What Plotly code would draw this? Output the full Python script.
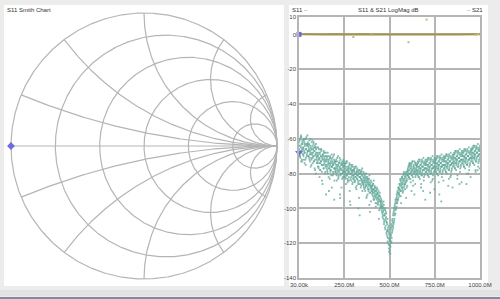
import numpy as np
import plotly.graph_objects as go

# ---------------- data ----------------
freq_start_mhz = 0.03
freq_stop_mhz = 1000.0

s11_db_a = [
    -62,-68,-60,-71,-65,-59,-67,-73,-63,-66,-70,-61,-68,-64,-72,-60,-66,-69,-63,-67,
    -64,-70,-66,-61,-73,-68,-65,-71,-62,-69,-74,-66,-63,-70,-67,-72,-65,-80,-68,-71,
    -68,-74,-70,-76,-66,-72,-69,-78,-73,-67,-75,-71,-86,-70,-77,-68,-74,-72,-79,-70,
    -72,-77,-70,-80,-75,-73,-90,-76,-71,-78,-74,-81,-69,-76,-73,-79,-75,-72,-84,-77,
    -74,-79,-72,-81,-77,-75,-70,-82,-78,-73,-76,-94,-80,-74,-77,-83,-75,-79,-72,-78,
    -76,-81,-74,-83,-78,-80,-73,-85,-79,-77,-82,-75,-96,-80,-78,-84,-76,-81,-79,-83,
    -78,-83,-77,-85,-80,-82,-76,-87,-81,-79,-84,-100,-78,-86,-82,-80,-88,-79,-83,-85,
    -81,-86,-79,-88,-84,-82,-90,-85,-80,-87,-83,-92,-86,-84,-89,-98,-85,-91,-87,-88,
    -85,-90,-87,-93,-89,-84,-95,-91,-88,-94,-90,-97,-92,-89,-96,-93,-106,-95,-91,-98,
    -94,-99,-96,-102,-97,-104,-100,-98,-107,-103,-101,-110,-105,-108,-113,-106,-117,-111,-121,-115,
    -124,-118,-112,-120,-109,-114,-106,-110,-103,-108,-100,-104,-97,-101,-95,-99,-93,-96,-91,-94,
    -88,-92,-86,-90,-84,-97,-87,-83,-89,-85,-81,-88,-84,-80,-86,-82,-94,-79,-84,-81,
    -77,-81,-75,-83,-78,-74,-80,-76,-90,-79,-73,-82,-77,-75,-80,-78,-86,-74,-79,-76,
    -75,-80,-73,-78,-82,-76,-72,-79,-77,-88,-74,-81,-76,-73,-78,-84,-75,-80,-77,-72,
    -74,-79,-72,-77,-81,-75,-71,-78,-76,-91,-73,-80,-75,-72,-77,-83,-74,-79,-76,-71,
    -73,-78,-71,-76,-80,-74,-70,-77,-85,-75,-72,-79,-74,-71,-76,-82,-73,-78,-75,-70,
    -72,-77,-70,-75,-79,-73,-69,-76,-74,-87,-71,-78,-73,-70,-75,-81,-72,-77,-74,-69,
    -70,-75,-68,-73,-77,-71,-67,-74,-72,-83,-69,-76,-71,-68,-73,-79,-70,-75,-72,-67,
    -69,-74,-67,-72,-76,-70,-66,-73,-71,-86,-68,-75,-70,-67,-72,-78,-69,-74,-71,-66,
    -67,-72,-65,-70,-74,-68,-64,-71,-69,-78,-66,-73,-68,-65,-70,-76,-67,-72,-69,-64,
]

s11_db_b = [
    -66,-61,-70,-64,-58,-68,-72,-62,-65,-69,-60,-67,-74,-63,-66,-71,-59,-64,-68,-62,
    -70,-65,-63,-72,-67,-60,-69,-75,-66,-64,-71,-68,-62,-73,-77,-65,-69,-63,-70,-74,
    -73,-69,-65,-77,-71,-82,-68,-74,-70,-66,-79,-72,-69,-75,-67,-73,-80,-70,-76,-68,
    -75,-71,-78,-68,-74,-82,-72,-77,-70,-79,-73,-76,-88,-71,-75,-80,-74,-69,-77,-73,
    -78,-73,-76,-84,-71,-79,-75,-81,-74,-77,-92,-72,-78,-80,-75,-73,-82,-76,-79,-74,
    -80,-75,-79,-86,-73,-81,-77,-83,-76,-78,-84,-74,-80,-98,-77,-82,-79,-75,-85,-78,
    -82,-78,-84,-76,-80,-88,-79,-83,-77,-81,-86,-80,-94,-78,-84,-82,-79,-87,-81,-77,
    -85,-80,-86,-83,-89,-81,-84,-87,-82,-93,-85,-88,-83,-90,-86,-81,-102,-87,-84,-89,
    -88,-92,-86,-91,-95,-89,-87,-93,-90,-99,-92,-88,-94,-91,-97,-90,-95,-93,-100,-96,
    -97,-95,-101,-99,-105,-102,-96,-109,-104,-100,-112,-107,-103,-115,-109,-119,-113,-110,-123,-118,
    -121,-126,-116,-111,-117,-107,-112,-104,-109,-101,-106,-98,-103,-96,-100,-92,-97,-90,-95,-89,
    -91,-86,-89,-83,-93,-85,-88,-82,-86,-90,-83,-79,-87,-82,-85,-80,-84,-88,-81,-78,
    -79,-76,-82,-74,-80,-77,-85,-75,-81,-78,-73,-84,-76,-79,-92,-77,-74,-81,-78,-75,
    -78,-74,-81,-76,-72,-79,-83,-75,-77,-86,-73,-80,-76,-78,-71,-82,-77,-74,-95,-79,
    -77,-73,-80,-75,-71,-78,-82,-74,-76,-72,-85,-79,-75,-77,-70,-81,-76,-73,-89,-78,
    -76,-72,-79,-74,-70,-77,-81,-73,-75,-92,-71,-78,-74,-76,-69,-80,-75,-72,-84,-77,
    -75,-71,-78,-73,-69,-76,-80,-72,-74,-70,-83,-77,-73,-75,-68,-79,-74,-71,-88,-76,
    -73,-69,-76,-71,-67,-74,-78,-70,-72,-81,-68,-75,-71,-73,-66,-77,-72,-69,-85,-74,
    -72,-68,-75,-70,-66,-73,-77,-69,-71,-67,-80,-74,-70,-72,-65,-76,-71,-68,-82,-73,
    -70,-66,-73,-68,-64,-71,-75,-67,-69,-79,-65,-72,-68,-70,-63,-74,-69,-66,-77,-71,
]

s11_db_c = [
    -64,-70,-67,-59,-73,-63,-66,-61,-69,-65,-72,-62,-68,-60,-75,-66,-63,-70,-58,-67,
    -67,-63,-71,-69,-64,-76,-66,-72,-68,-61,-70,-65,-73,-67,-64,-78,-69,-66,-72,-65,
    -70,-76,-72,-68,-74,-71,-78,-66,-73,-70,-84,-75,-69,-72,-77,-71,-68,-75,-73,-92,
    -73,-76,-79,-72,-70,-77,-74,-83,-75,-71,-78,-72,-76,-74,-81,-70,-77,-95,-73,-79,
    -77,-75,-80,-73,-78,-76,-83,-74,-79,-71,-77,-81,-75,-88,-78,-74,-80,-76,-73,-82,
    -79,-77,-82,-76,-74,-81,-78,-84,-80,-76,-79,-90,-77,-83,-75,-80,-78,-86,-76,-81,
    -81,-79,-77,-84,-82,-80,-89,-78,-83,-81,-85,-79,-82,-104,-80,-86,-83,-78,-84,-90,
    -84,-82,-87,-85,-80,-88,-83,-86,-94,-84,-82,-89,-85,-87,-83,-91,-86,-88,-96,-90,
    -87,-91,-89,-86,-94,-90,-92,-88,-97,-93,-89,-95,-91,-98,-94,-92,-101,-96,-93,-99,
    -96,-100,-98,-103,-99,-106,-101,-108,-104,-111,-106,-102,-114,-108,-116,-112,-120,-114,-125,-117,
    -119,-122,-115,-119,-110,-113,-108,-111,-102,-107,-99,-103,-95,-100,-94,-97,-91,-95,-88,-92,
    -89,-93,-87,-84,-90,-86,-82,-88,-91,-84,-80,-86,-83,-89,-81,-85,-79,-83,-87,-80,
    -78,-82,-76,-80,-75,-83,-79,-77,-74,-81,-78,-87,-76,-80,-73,-79,-82,-75,-77,-80,
    -76,-79,-74,-82,-77,-73,-80,-78,-75,-81,-72,-79,-76,-90,-74,-78,-81,-73,-77,-75,
    -75,-78,-73,-81,-76,-72,-79,-77,-74,-80,-71,-78,-75,-84,-73,-77,-80,-72,-76,-74,
    -74,-77,-72,-80,-75,-71,-78,-76,-73,-79,-70,-77,-74,-96,-72,-76,-79,-71,-75,-73,
    -73,-76,-71,-79,-74,-70,-77,-75,-72,-78,-69,-76,-73,-82,-71,-75,-78,-70,-74,-72,
    -71,-74,-69,-77,-72,-68,-75,-73,-70,-76,-67,-74,-71,-86,-69,-73,-76,-68,-72,-70,
    -70,-73,-68,-76,-71,-67,-74,-72,-69,-75,-66,-73,-70,-80,-68,-72,-75,-67,-71,-69,
    -68,-71,-66,-74,-69,-65,-72,-70,-67,-73,-64,-71,-68,-78,-66,-70,-73,-65,-69,-67,
]

s21_db = [0.1, 0.0, -0.1, 0.1, 0.0, 0.0, -0.1, 0.1, 0.0, 0.1, 0.0,
          -0.1, 0.0, 0.1, 0.0, -0.1, 0.0, 0.1, 0.0, 0.0, -0.1,
          0.0, 0.1, 0.0, -0.1, 0.0, 0.1, 0.0, 0.0, -0.1, 0.0,
          0.1, 0.0, -0.1, 0.0, 0.0, 0.1, 0.0, -0.1, 0.0, 0.1]
s21_spur_freq = [300, 400, 605, 705, 975, 990]
s21_spur_db = [-1.5, -0.3, -4.5, 8.5, -0.2, 0.2]

marker_freq = 0.03
marker_s11_db = -68
marker_s21_db = 0

x_tick_vals = [0.03, 250, 500, 750, 1000]
x_tick_text = ["30.00k", "250.0M", "500.0M", "750.0M", "1000.0M"]
y_tick_vals = [10, 0, -20, -40, -60, -80, -100, -120, -140]
y_tick_text = ["10", "0", "-20", "-40", "-60", "-80", "-100", "-120", "-140"]

smith_r = [0.2, 0.5, 1, 2, 5]
smith_x = [0.2, 0.5, 1, 2, 5]
smith_marker_re = -1.0
smith_marker_im = 0.0

# ---------------- layout helpers ----------------
W, H = 500, 299
def px(x):
    return x / W
def py(y):
    return 1 - y / H

GRID = "#b5b5b5"
TEAL = "#62a99a"
OLIVE = "#a0934d"
MARK = "#6c6ce2"
FONT = "Liberation Sans"

fig = go.Figure()

# ---- Smith chart grid ----
t = np.linspace(-np.pi / 2 + 1e-4, np.pi / 2 - 1e-4, 721)
sx, sy = [], []
for r in [0] + smith_r:
    z = r + 1j * np.tan(t)
    g = (z - 1) / (z + 1)
    sx += list(g.real) + [1.0, None]
    sy += list(g.imag) + [0.0, None]
tr = np.linspace(0, np.pi / 2 - 1e-4, 400)
for x in smith_x:
    for s in (1, -1):
        z = np.tan(tr) + 1j * s * x
        g = (z - 1) / (z + 1)
        sx += list(g.real) + [1.0, None]
        sy += list(g.imag) + [0.0, None]
sx += [-1, 1, None]
sy += [0, 0, None]

fig.add_trace(go.Scatter(x=sx, y=sy, mode="lines", line=dict(color=GRID, width=1.2),
                         hoverinfo="skip", showlegend=False, xaxis="x", yaxis="y"))
fig.add_trace(go.Scatter(x=[smith_marker_re], y=[smith_marker_im], mode="markers",
                         marker=dict(symbol="diamond", size=6, color=MARK),
                         cliponaxis=False, showlegend=False, xaxis="x", yaxis="y"))

# ---- LogMag chart ----
n = len(s11_db_a)
step = (freq_stop_mhz - freq_start_mhz) / (n - 1)
base_freq = np.linspace(freq_start_mhz, freq_stop_mhz, n)
freq_sets = [base_freq, np.clip(base_freq + step / 3, None, freq_stop_mhz),
             np.clip(base_freq + 2 * step / 3, None, freq_stop_mhz)]
s21_freq = np.linspace(freq_start_mhz, freq_stop_mhz, len(s21_db))

fig.add_trace(go.Scatter(x=s21_freq, y=s21_db, mode="lines", line=dict(color=OLIVE, width=2),
                         showlegend=False, xaxis="x2", yaxis="y2"))
fig.add_trace(go.Scatter(x=s21_spur_freq, y=s21_spur_db, mode="markers",
                         marker=dict(symbol="square", size=2, color="#c8b57a"),
                         showlegend=False, xaxis="x2", yaxis="y2"))
for fset, vals in zip(freq_sets, [s11_db_a, s11_db_b, s11_db_c]):
    fig.add_trace(go.Scatter(x=fset, y=vals, mode="markers",
                             marker=dict(symbol="square", size=1.8, color=TEAL, opacity=0.8),
                             showlegend=False, xaxis="x2", yaxis="y2"))
fig.add_trace(go.Scatter(x=[marker_freq], y=[marker_s21_db], mode="markers",
                         marker=dict(symbol="square", size=5, color=MARK),
                         cliponaxis=False, showlegend=False, xaxis="x2", yaxis="y2"))
fig.add_trace(go.Scatter(x=[marker_freq], y=[marker_s11_db], mode="markers",
                         marker=dict(symbol="triangle-down", size=7, color=MARK),
                         cliponaxis=False, showlegend=False, xaxis="x2", yaxis="y2"))

shapes = [
    dict(type="rect", xref="paper", yref="paper", x0=px(4), x1=px(284), y0=py(286), y1=py(5),
         fillcolor="white", line=dict(width=0), layer="below"),
    dict(type="rect", xref="paper", yref="paper", x0=px(289), x1=px(488), y0=py(286), y1=py(5),
         fillcolor="white", line=dict(width=0), layer="below"),
    dict(type="rect", xref="paper", yref="paper", x0=0, x1=1, y0=py(296), y1=py(290),
         fillcolor="#e2e2e2", line=dict(width=0), layer="below"),
    dict(type="rect", xref="paper", yref="paper", x0=0, x1=1, y0=0, y1=py(297),
         fillcolor="#7d8c9c", line=dict(width=0), layer="below"),
]

ann_font = dict(family=FONT, size=6, color="#333333")
annotations = [
    dict(text="S11 Smith Chart", x=px(5), y=py(10), xref="paper", yref="paper",
         xanchor="left", yanchor="middle", showarrow=False, font=ann_font),
    dict(text="S11 <span style='color:%s'>–</span>" % OLIVE, x=px(290), y=py(10), xref="paper", yref="paper",
         xanchor="left", yanchor="middle", showarrow=False, font=ann_font),
    dict(text="S11 &amp; S21 LogMag dB", x=px(388), y=py(10), xref="paper", yref="paper",
         xanchor="center", yanchor="middle", showarrow=False, font=ann_font),
    dict(text="<span style='color:%s'>–</span> S21" % TEAL, x=px(485), y=py(10), xref="paper", yref="paper",
         xanchor="right", yanchor="middle", showarrow=False, font=ann_font),
]

fig.update_layout(
    width=W, height=H,
    margin=dict(l=0, r=0, t=0, b=0, autoexpand=False),
    paper_bgcolor="#ececec",
    plot_bgcolor="rgba(0,0,0,0)",
    shapes=shapes,
    annotations=annotations,
    xaxis=dict(domain=[px(7), px(281)], range=[-1.03, 1.03], visible=False, fixedrange=True,
               automargin=False),
    yaxis=dict(domain=[py(283), py(9)], range=[-1.03, 1.03], visible=False, fixedrange=True,
               automargin=False),
    xaxis2=dict(domain=[px(299), px(480)], range=[freq_start_mhz, freq_stop_mhz], anchor="y2",
                tickvals=x_tick_vals, ticktext=x_tick_text, showgrid=True, gridcolor=GRID, gridwidth=1.5,
                showline=True, linecolor=GRID, linewidth=1.5, mirror=True, zeroline=False,
                automargin=False, ticks="", tickfont=dict(family=FONT, size=6, color="#444444")),
    yaxis2=dict(domain=[py(278), py(17)], range=[-140, 10], anchor="x2",
                tickvals=y_tick_vals, ticktext=y_tick_text, showgrid=True, gridcolor=GRID, gridwidth=1.5,
                showline=True, linecolor=GRID, linewidth=1.5, mirror=True, zeroline=False,
                automargin=False, ticks="", tickfont=dict(family=FONT, size=6, color="#444444")),
)

fig.write_html("out.html")
